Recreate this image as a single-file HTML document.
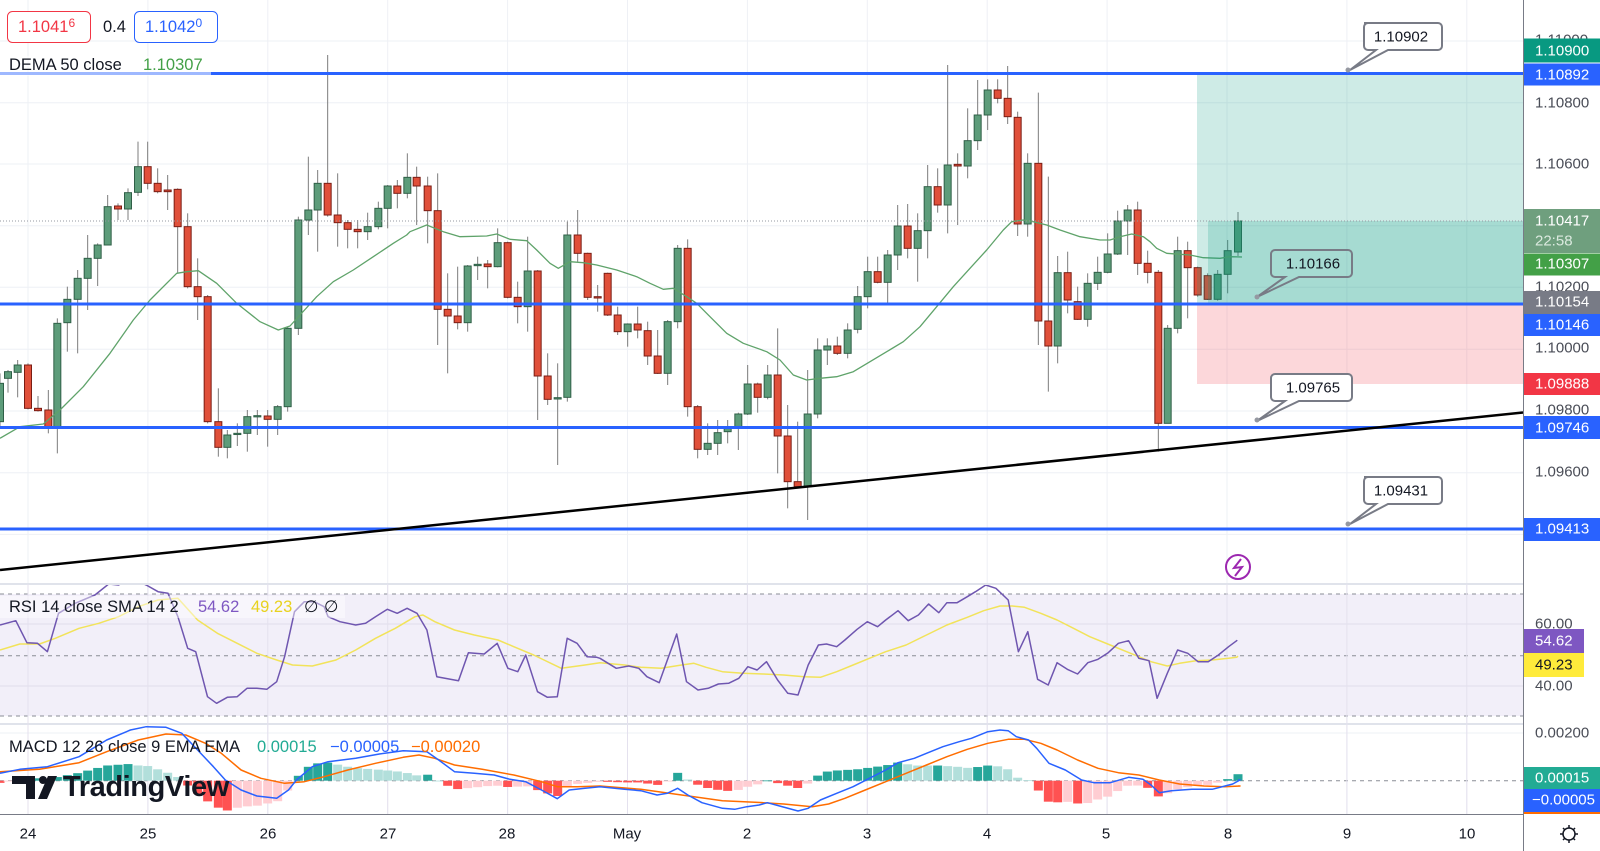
<!DOCTYPE html>
<html><head><meta charset="utf-8"><style>
html,body{margin:0;padding:0;background:#fff;width:1600px;height:851px;overflow:hidden}
svg{display:block;font-family:"Liberation Sans",sans-serif}
</style></head><body>
<svg id="s" width="1600" height="851" xmlns="http://www.w3.org/2000/svg">
<defs>
<clipPath id="cm"><rect x="0" y="0" width="1523" height="584"/></clipPath>
<clipPath id="cr"><rect x="0" y="585" width="1523" height="139"/></clipPath>
<clipPath id="cd"><rect x="0" y="725" width="1523" height="89"/></clipPath>
</defs>
<rect x="0" y="0" width="1600" height="851" fill="#fff"/>
<g id="grid"></g>
<g id="main" clip-path="url(#cm)"></g>
<rect x="1197" y="73.5" width="326" height="230" fill="rgb(8,153,129)" fill-opacity="0.2"/>
<rect x="1208" y="221" width="315" height="82" fill="rgb(8,153,129)" fill-opacity="0.2"/>
<rect x="1197" y="304" width="326" height="80" fill="rgb(242,54,69)" fill-opacity="0.2"/>
<line x1="0" y1="221" x2="1523" y2="221" stroke="#9598a1" stroke-width="1" stroke-dasharray="1,2"/>
<g stroke="#2962ff" stroke-width="3">
<line x1="0" y1="73.5" x2="1523" y2="73.5"/>
<line x1="0" y1="304" x2="1523" y2="304"/>
<line x1="0" y1="427.5" x2="1523" y2="427.5"/>
<line x1="0" y1="529" x2="1523" y2="529"/>
</g>
<rect x="0" y="56" width="211" height="20" fill="#fff" fill-opacity="0.55"/>
<line x1="0" y1="570" x2="1523" y2="412.5" stroke="#000" stroke-width="2.5"/>
<g stroke="#787b86" stroke-width="2" font-size="15" fill="#fff">
<path d="M1364,23 h74 a4,4 0 0 1 4,4 v19 a4,4 0 0 1 -4,4 h-50 l-38,20 l26,-20 h-8 a4,4 0 0 1 -4,-4 v-19 a4,4 0 0 1 4,-4 z"/>
<path d="M1275,250 h73 a4,4 0 0 1 4,4 v19 a4,4 0 0 1 -4,4 h-49 l-42,20 l28,-20 h-10 a4,4 0 0 1 -4,-4 v-19 a4,4 0 0 1 4,-4 z" fill="none"/>
<path d="M1275,374 h73 a4,4 0 0 1 4,4 v19 a4,4 0 0 1 -4,4 h-49 l-42,20 l28,-20 h-10 a4,4 0 0 1 -4,-4 v-19 a4,4 0 0 1 4,-4 z"/>
<path d="M1364,477 h74 a4,4 0 0 1 4,4 v19 a4,4 0 0 1 -4,4 h-50 l-38,20 l26,-20 h-8 a4,4 0 0 1 -4,-4 v-19 a4,4 0 0 1 4,-4 z"/>
</g>
<g fill="#9598a1"><circle cx="1348" cy="70" r="2.5"/><circle cx="1257" cy="297" r="2.5"/><circle cx="1257" cy="420" r="2.5"/><circle cx="1348" cy="524" r="2.5"/></g>
<g font-size="15" fill="#131722" text-anchor="middle" dominant-baseline="central">
<text x="1401" y="37">1.10902</text>
<text x="1313" y="264">1.10166</text>
<text x="1313" y="388">1.09765</text>
<text x="1401" y="491">1.09431</text>
</g>
<circle cx="1238" cy="567" r="12" fill="#fff" stroke="#9c27b0" stroke-width="2"/>
<polyline points="1241,559 1234,568 1242,567 1235,576" fill="none" stroke="#9c27b0" stroke-width="2"/>

<g id="rsi" clip-path="url(#cr)"></g>
<g id="macd" clip-path="url(#cd)"></g>

<rect x="7.5" y="11.5" width="83" height="31" rx="5" fill="#fff" stroke="#f23645"/>
<rect x="134.5" y="11.5" width="83" height="31" rx="5" fill="#fff" stroke="#2962ff"/>
<g font-size="16.5" dominant-baseline="central">
<text x="18" y="27" fill="#f23645">1.1041<tspan font-size="12" dy="-4">6</tspan></text>
<text x="103" y="27" fill="#131722">0.4</text>
<text x="145" y="27" fill="#2962ff">1.1042<tspan font-size="12" dy="-4">0</tspan></text>
<text x="9" y="65" fill="#131722">DEMA 50 close</text>
<text x="143" y="65" fill="#43a047">1.10307</text>
</g>
<rect x="0" y="596" width="345" height="22" fill="#fff" fill-opacity="0.45"/>
<g font-size="16.5" dominant-baseline="central">
<text x="9" y="607" fill="#131722">RSI 14 close SMA 14 2</text>
<text x="198" y="607" fill="#7e57c2">54.62</text>
<text x="251" y="607" fill="#e8d21f">49.23</text>
<text x="304" y="607" fill="#131722">∅</text>
<text x="324" y="607" fill="#131722">∅</text>
<text x="9" y="747" fill="#131722">MACD 12 26 close 9 EMA EMA</text>
<text x="257" y="747" fill="#22ab94">0.00015</text>
<text x="330" y="747" fill="#2962ff">−0.00005</text>
<text x="411" y="747" fill="#ff6d00">−0.00020</text>
</g>
<g fill="#131722">
<rect x="12" y="776" width="23" height="8"/><rect x="26" y="776" width="9" height="23"/>
<circle cx="43" cy="780" r="4"/><polygon points="48,776 57,776 47,799 38,799"/>
<text x="63" y="787" font-size="29" font-weight="bold" letter-spacing="-0.4" dominant-baseline="central">TradingView</text>
</g>

<rect x="1524" y="0" width="76" height="851" fill="#fff"/>
<line x1="1523.5" y1="0" x2="1523.5" y2="851" stroke="#787b86" stroke-width="1"/>
<line x1="0" y1="814.5" x2="1523" y2="814.5" stroke="#787b86" stroke-width="1"/>
<g font-size="15" fill="#4a4d57" dominant-baseline="central">
<text x="1535" y="40">1.11000</text>
<text x="1535" y="103">1.10800</text>
<text x="1535" y="164">1.10600</text>
<text x="1535" y="287">1.10200</text>
<text x="1535" y="348">1.10000</text>
<text x="1535" y="410">1.09800</text>
<text x="1535" y="472">1.09600</text>
<text x="1535" y="624">60.00</text>
<text x="1535" y="686">40.00</text>
<text x="1535" y="733">0.00200</text>
</g>
<rect x="1524" y="38.5" width="76" height="24" fill="#089981"/>
<rect x="1524" y="63.5" width="76" height="22" fill="#2962ff"/>
<rect x="1524" y="209" width="76" height="44" fill="#6f9f7e"/>
<rect x="1524" y="253.5" width="76" height="22" fill="#43a047"/>
<rect x="1524" y="291" width="76" height="23" fill="#787b86"/>
<rect x="1524" y="314" width="76" height="22" fill="#2962ff"/>
<rect x="1524" y="373" width="76" height="22" fill="#f23645"/>
<rect x="1524" y="416" width="76" height="23" fill="#2962ff"/>
<rect x="1524" y="518" width="76" height="23" fill="#2962ff"/>
<rect x="1524" y="629" width="60" height="24" fill="#7e57c2"/>
<rect x="1524" y="653" width="60" height="24" fill="#ffeb3b"/>
<rect x="1524" y="767" width="76" height="22" fill="#22ab94"/>
<rect x="1524" y="789" width="76" height="23" fill="#2962ff"/>
<rect x="1524" y="812" width="76" height="2" fill="#ff6d00"/>
<g font-size="15" fill="#fff" dominant-baseline="central">
<text x="1535" y="51">1.10900</text>
<text x="1535" y="75">1.10892</text>
<text x="1535" y="221">1.10417</text>
<text x="1535" y="241" fill="#dbeadf">22:58</text>
<text x="1535" y="264">1.10307</text>
<text x="1535" y="302">1.10154</text>
<text x="1535" y="325">1.10146</text>
<text x="1535" y="384">1.09888</text>
<text x="1535" y="428">1.09746</text>
<text x="1535" y="529">1.09413</text>
<text x="1535" y="641">54.62</text>
<text x="1535" y="665" fill="#131722">49.23</text>
<text x="1535" y="778">0.00015</text>
<text x="1532" y="800">−0.00005</text>
</g>
<g font-size="15" fill="#131722" text-anchor="middle" dominant-baseline="central">
<text x="28" y="834">24</text><text x="148" y="834">25</text><text x="268" y="834">26</text>
<text x="388" y="834">27</text><text x="507" y="834">28</text><text x="627" y="834">May</text>
<text x="747" y="834">2</text><text x="867" y="834">3</text><text x="987" y="834">4</text>
<text x="1106" y="834">5</text><text x="1228" y="834">8</text><text x="1347" y="834">9</text>
<text x="1467" y="834">10</text>
</g>
<g stroke="#131722" stroke-width="1.5" fill="none">
<circle cx="1569" cy="834" r="6"/>
<path d="M1569,825v3M1569,840v3M1560,834h3M1575,834h3M1563,828l2,2M1573,838l2,2M1575,828l-2,2M1563,840l2,-2"/>
</g>
</svg>
<script>
var NS='http://www.w3.org/2000/svg';
function E(t,a,p){var e=document.createElementNS(NS,t);for(var k in a)e.setAttribute(k,a[k]);p.appendChild(e);return e;}
var G=document.getElementById('grid'),M=document.getElementById('main'),R=document.getElementById('rsi'),D=document.getElementById('macd');
var days=[];for(var i=0;i<13;i++)days.push(28+i*119.9);
days.forEach(function(x){E('line',{x1:x,y1:0,x2:x,y2:814,stroke:'#eef0f5','stroke-width':1},G);});
[41,102.7,164,225.7,287.3,349.3,411,472.7,534.4].forEach(function(y){E('line',{x1:0,y1:y,x2:1523,y2:y,stroke:'#eef0f5','stroke-width':1},G);});
E('line',{x1:0,y1:584,x2:1523,y2:584,stroke:'#e0e3eb','stroke-width':2},G);
E('line',{x1:0,y1:724,x2:1523,y2:724,stroke:'#e0e3eb','stroke-width':2},G);
E('rect',{x:0,y:594,width:1523,height:122,fill:'#f2eff9'},G);
[624,686].forEach(function(y){E('line',{x1:0,y1:y,x2:1523,y2:y,stroke:'#e0dcea','stroke-width':1},G);});
[594,655.7,716,780.7].forEach(function(y){E('line',{x1:0,y1:y,x2:1523,y2:y,stroke:'#8a8d96','stroke-width':1,'stroke-dasharray':'4,4'},G);});
E('line',{x1:0,y1:733,x2:1523,y2:733,stroke:'#eef0f5','stroke-width':1},G);
days.forEach(function(x){E('line',{x1:x,y1:584,x2:x,y2:814,stroke:'#e4e1ee','stroke-width':1},G);});

var z1=[[0,1030,1145,1,1000,1160],[24,995,1015,1,990,1058],[53,975,997,1,960,1072],[84,975,1105,0,970,1108],[114,1105,1112,0,1068,1115],[145,1110,1160,0,1050,1180],[172,850,1160,1,835,1240],[202,778,848,1,740,935],[233,715,778,1,690,940],[263,655,715,1,585,810],[293,615,655,1,610,738],[323,500,615,1,465,615],[354,498,507,0,490,540],[384,458,507,1,445,540],[414,380,457,1,305,468],[443,380,430,0,305,448],[473,430,455,0,385,460],[503,450,455,0,405,510],[533,448,560,0,445,700],[563,560,740,0,520,745],[593,740,770,0,655,840],[623,770,1145,0,765,1150],[655,1145,1222,0,1045,1250],[682,1185,1222,1,1170,1255],[712,1180,1183,1,1150,1218],[742,1130,1180,1,1110,1235],[772,1127,1130,1,1110,1185],[803,1128,1138,0,1110,1220],[833,1100,1138,1,1095,1185],[863,865,1100,1,860,1115],[895,540,865,1,530,885],[925,510,540,1,350,585],[953,430,510,1,390,635],[983,430,525,0,45,530],[1013,525,548,0,400,620],[1043,548,568,0,540,625],[1073,568,575,0,540,625],[1103,560,575,1,518,600],[1135,505,560,1,485,568],[1163,438,505,1,435,565],[1192,438,460,0,420,505],[1222,412,460,1,340,475],[1250,412,438,0,380,555]];
var z2=[[53,438,512,0,410,610],[83,512,808,0,400,915],[113,808,828,0,700,1000],[143,828,848,0,680,868],[173,678,848,1,675,875],[203,673,677,1,650,720],[233,672,680,0,660,745],[263,608,680,1,565,682],[293,608,772,0,605,775],[323,772,800,0,725,850],[353,693,800,1,590,875],[383,693,1008,0,690,1140],[413,1008,1078,0,940,1095],[443,1073,1077,1,970,1275],[472,585,1072,1,545,1085],[503,585,640,0,510,665],[533,640,772,0,638,780],[563,770,774,0,735,815],[593,700,825,0,698,828],[623,825,875,0,800,885],[653,852,875,1,850,920],[683,852,870,0,800,895],[713,872,948,0,845,975],[743,948,1000,0,870,1002],[773,845,1000,1,840,1035],[803,625,845,1,615,865],[833,625,1100,0,598,1130],[863,1100,1228,0,1095,1255],[893,1210,1228,1,1150,1245],[923,1178,1210,1,1140,1245],[953,1163,1175,1,1140,1210],[985,1122,1165,1,1118,1230],[1013,1032,1122,1,975,1125],[1043,1032,1072,0,1028,1118],[1073,1005,1072,1,975,1078],[1103,1005,1188,0,865,1300],[1133,1188,1325,0,1095,1405],[1163,1325,1340,0,1145,1345],[1193,1122,1340,1,990,1440],[1223,930,1122,1,895,1135]];
var z3=[[22,918,930,1,895,975],[52,918,940,0,890,945],[83,870,940,1,850,955],[113,770,868,1,738,880],[143,695,770,1,650,805],[173,695,727,0,650,730],[203,645,727,1,630,790],[233,558,645,1,495,690],[263,558,625,0,492,655],[293,572,625,1,520,725],[323,440,572,1,375,655],[353,440,495,0,385,518],[383,375,495,1,75,580],[413,373,378,0,340,555],[443,302,378,1,205,415],[473,225,302,1,120,330],[503,150,225,1,118,270],[533,150,175,0,118,190],[563,175,230,0,78,252],[593,232,552,0,215,588],[623,370,552,1,340,590],[655,370,843,0,158,915],[685,843,918,0,410,1055],[713,698,918,1,648,970],[743,698,780,0,635,820],[773,785,838,0,740,840],[803,730,838,1,700,860],[833,697,730,1,650,750],[863,642,697,1,580,700],[893,543,642,1,512,645],[923,510,543,1,495,645],[953,510,670,0,485,705],[983,670,697,0,632,730],[1015,697,1150,0,690,1235],[1043,865,1150,1,855,1150],[1073,632,865,1,590,880],[1103,632,683,0,605,835],[1133,683,765,0,680,770],[1163,707,778,0,700,780],[1193,703,778,1,690,782],[1223,632,703,1,600,760]];
var C=[];
function add(a,off){a.forEach(function(r){C.push({x:off+r[0]/3,t:40+r[1]/3,b:40+r[2]/3,g:r[3],h:40+r[4]/3,l:40+r[5]/3});});}
add(z1,0);add(z2,410);add(z3,820);
C.push({x:1238,t:221,b:252,g:1,h:212,l:256});
C.forEach(function(c){
  E('line',{x1:c.x,y1:c.h,x2:c.x,y2:c.l,stroke:'#7c7c7c','stroke-width':1},M);
  var hh=Math.max(c.b-c.t,1.2);
  E('rect',{x:c.x-3.5,y:c.t,width:7,height:hh,fill:c.g?'#5d9c7a':'#e0503a',stroke:c.g?'#2f5f47':'#7a1d14','stroke-width':1},M);
});
function pts(a,ox,sx,oy,sy){return a.map(function(p){return [ox+p[0]/sx,oy+p[1]/sy];});}
function pl(P,col,w,par){E('polyline',{points:P.map(function(p){return p[0].toFixed(1)+','+p[1].toFixed(1);}).join(' '),fill:'none',stroke:col,'stroke-width':w,'stroke-linejoin':'round'},par);}
var d1=[[0,1195],[60,1160],[130,1152],[180,1110],[250,1040],[330,940],[400,840],[450,780],[530,700],[560,695],[595,692],[650,730],[710,790],[780,845],[835,870],[870,858],[900,825],[950,770],[1000,725],[1060,690],[1120,650],[1180,610],[1220,585]];
var d2=[[0,575],[50,555],[100,575],[150,590],[230,588],[260,582],[300,598],[350,602],[380,630],[420,670],[445,685],[480,665],[520,668],[560,675],[620,690],[680,710],[720,730],[760,748],[790,745],[830,770],[860,790],[900,830],[950,880],[1000,910],[1070,935],[1110,960],[1150,1005],[1190,1020],[1230,1015]];
var d3=[[0,1015],[50,1010],[100,995],[150,965],[200,935],[250,905],[300,860],[350,800],[400,740],[450,685],[500,630],[550,570],[575,545],[610,540],[640,545],[680,555],[720,570],[780,590],[840,600],[870,600],[900,590],[935,582],[970,590],[990,605],[1010,625],[1040,640],[1080,643],[1110,645],[1150,653],[1200,655],[1230,650]];
var DP=pts(d1,0,3,40,3).concat(pts(d2,410,3,40,3),pts(d3,820,3,40,3));DP.push([1242,257]);
pl(DP,'#5fa36a',1.3,M);
var r6=[[0,135],[40,122],[68,188],[95,190],[120,215],[148,100],[190,70],[240,45],[275,12],[300,15],[330,-5],[370,15],[400,35],[425,40],[450,110],[475,205],[495,215],[525,350],[548,370],[575,352],[600,350],[625,325],[650,325],[675,328],[700,305],[720,230],[745,95],[770,65],[795,65],[820,80],[830,110],[860,125],[900,135],[925,130],[950,110],[980,88],[1005,100],[1030,85],[1055,100],[1080,150],[1105,290],[1160,302],[1185,218],[1225,222],[1258,190],[1285,265],[1310,275],[1330,225],[1360,335],[1385,352],[1410,350],[1435,175],[1460,190],[1485,230],[1510,232]];
var r7=[[0,235],[40,265],[70,258],[95,265],[115,290],[145,308],[188,162],[212,305],[240,330],[265,325],[290,312],[315,310],[340,295],[362,260],[385,270],[408,245],[435,300],[460,340],[485,345],[510,255],[535,195],[555,192],[580,200],[600,180],[630,148],[655,125],[680,140],[700,120],[730,92],[755,122],[780,105],[805,72],[830,98],[850,68],[875,68],[900,50],[920,35],[945,15],[970,25],[1000,60],[1025,215],[1048,155],[1072,298],[1098,315],[1120,248],[1145,268],[1170,282],[1195,248],[1220,238],[1245,218],[1270,190],[1295,182],[1320,235],[1345,242],[1365,355],[1390,280],[1415,210],[1440,220],[1465,245],[1490,245],[1515,225],[1540,200],[1560,182]];
var s6=[[0,210],[50,192],[100,192],[140,175],[200,145],[250,130],[300,110],[350,80],[400,60],[450,55],[500,120],[550,160],[600,190],[650,220],[700,240],[740,255],[790,258],[850,240],[900,210],[950,175],[1000,145],[1050,110],[1070,105],[1100,125],[1150,150],[1200,165],[1260,180],[1300,200],[1350,225],[1420,265],[1480,255]];
var s7=[[0,248],[60,255],[100,262],[150,265],[200,255],[230,250],[260,262],[300,275],[350,280],[400,282],[450,285],[500,290],[540,292],[580,275],[620,255],[660,235],[700,215],[750,195],[800,165],[850,135],[900,112],[940,92],[980,78],[1010,78],[1040,82],[1080,100],[1120,120],[1160,145],[1200,170],[1250,195],[1300,220],[1350,245],[1390,258],[1420,250],[1460,242],[1500,240],[1540,235],[1560,232]];
function merge(a6,a7,end){var A=pts(a6,0,2.53,580,3).filter(function(p){return p[0]<600;});var B=pts(a7,600,2.45,580,3);var r=A.concat(B);if(end)r.push(end);return r;}
pl(merge(s6,s7,[1238,656]),'#f2e35a',1.5,R);
pl(merge(r6,r7,[1237,640]),'#6f56b0',1.5,R);
var b6=[[0,580],[50,568],[120,560],[200,530],[270,480],[330,450],[370,440],[420,442],[460,460],[500,510],[540,560],[570,600],[610,630],[650,648],[700,655],[730,630],[750,600],[790,560],[830,545],[900,535],[960,522],[1020,512],[1080,515],[1110,540],[1150,575],[1200,580],[1250,585],[1290,598],[1330,605],[1370,630],[1410,656],[1440,630],[1480,625]];
var o6=[[0,575],[100,568],[200,548],[270,515],[350,480],[420,462],[470,465],[520,490],[560,520],[610,570],[660,595],[720,610],[770,605],[820,590],[880,570],[950,550],[1020,532],[1060,525],[1100,535],[1150,555],[1220,568],[1300,585],[1370,605],[1410,620],[1460,620]];
var b7=[[0,620],[60,628],[100,632],[140,645],[165,640],[190,625],[215,645],[250,668],[300,685],[330,688],[360,680],[390,675],[410,668],[440,678],[485,693],[510,685],[540,660],[580,640],[620,620],[660,595],[700,570],[730,548],[770,535],[800,520],[840,500],[880,485],[910,475],[950,455],[980,450],[1000,452],[1020,470],[1050,480],[1070,505],[1100,550],[1140,570],[1180,600],[1210,608],[1250,608],[1295,592],[1330,598],[1350,615],[1370,638],[1400,632],[1450,628],[1500,628],[1550,612],[1568,600]];
var o7=[[0,618],[100,628],[200,645],[300,662],[400,668],[450,672],[520,680],[560,672],[600,655],[650,630],[700,605],[750,580],[800,555],[850,530],[900,508],[950,490],[1000,478],[1040,478],[1080,490],[1120,510],[1170,540],[1220,565],[1270,578],[1320,585],[1370,600],[1420,612],[1480,618],[1530,620],[1568,618]];
var BL=merge(b6,b7,[1238,780]),OR=merge(o6,o7,[1238,786]);
function ip(P,x){if(x<=P[0][0])return P[0][1];for(var i=1;i<P.length;i++){if(P[i][0]>=x){var a=P[i-1],b=P[i];return a[1]+(b[1]-a[1])*(x-a[0])/(b[0]-a[0]||1);}}return P[P.length-1][1];}
var prev=0;
C.forEach(function(c){
  var h=(ip(OR,c.x)-ip(BL,c.x))*1.3;
  var col;
  if(h>=0)col=h>=prev?'#26a69a':'#b2dfdb';else col=h<=prev?'#ff5252':'#ffcdd2';
  prev=h;
  var y=h>=0?780.7-h:780.7;
  E('rect',{x:c.x-4.5,y:y,width:9,height:Math.max(Math.abs(h),0.8),fill:col},D);
});
pl(OR,'#ff6d00',1.5,D);
pl(BL,'#2962ff',1.5,D);
</script>
</body></html>
